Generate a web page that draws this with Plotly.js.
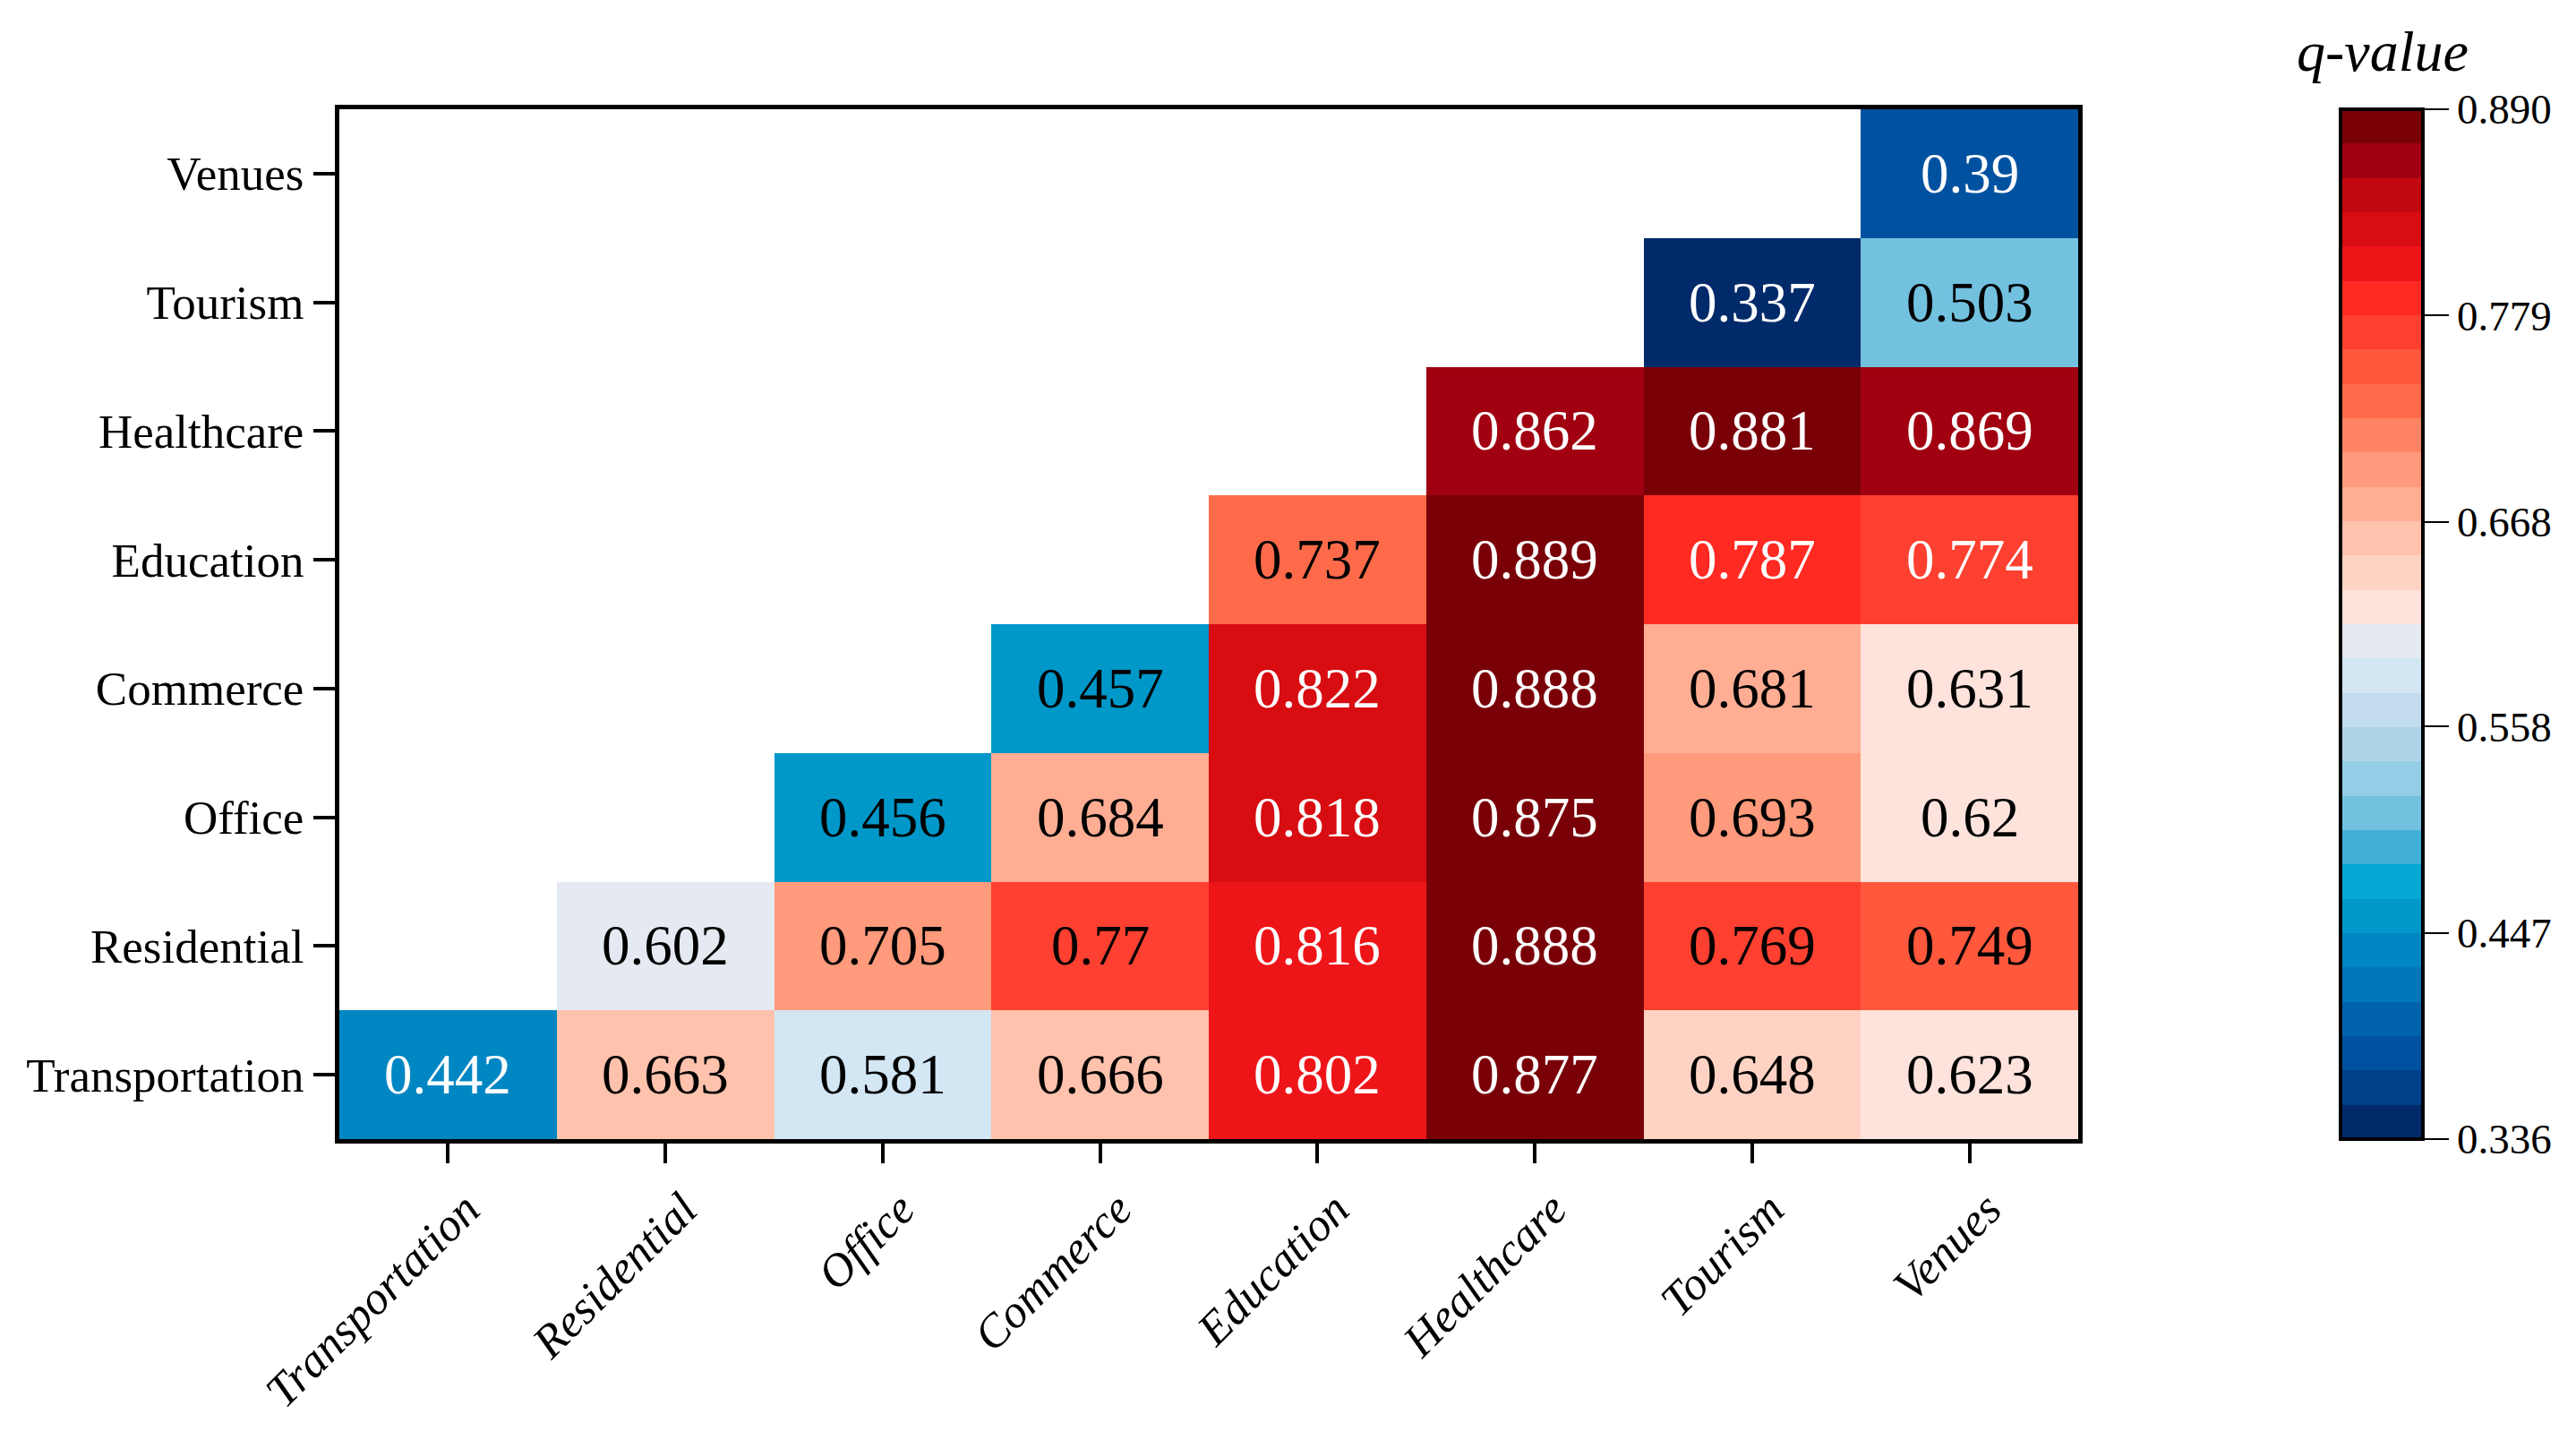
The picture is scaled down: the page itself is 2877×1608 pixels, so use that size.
<!DOCTYPE html>
<html>
<head>
<meta charset="utf-8">
<script src="https://cdn.plot.ly/plotly-3.0.1.min.js"></script>
<style>html,body{margin:0;padding:0;background:#fff;}#chart{width:2877px;height:1608px;}</style>
</head>
<body>
<div id="chart"></div>
<script>
// Categories (x: columns left→right, y: rows bottom→top)
const categories = ["Transportation","Residential","Office","Commerce","Education","Healthcare","Tourism","Venues"];

// q-values per row (row = y category), columns follow categories; null = empty cell
const rowTransportation = [0.442, 0.663, 0.581, 0.666, 0.802, 0.877, 0.648, 0.623];
const rowResidential    = [null, 0.602, 0.705, 0.77, 0.816, 0.888, 0.769, 0.749];
const rowOffice         = [null, null, 0.456, 0.684, 0.818, 0.875, 0.693, 0.62];
const rowCommerce       = [null, null, null, 0.457, 0.822, 0.888, 0.681, 0.631];
const rowEducation      = [null, null, null, null, 0.737, 0.889, 0.787, 0.774];
const rowHealthcare     = [null, null, null, null, null, 0.862, 0.881, 0.869];
const rowTourism        = [null, null, null, null, null, null, 0.337, 0.503];
const rowVenues         = [null, null, null, null, null, null, null, 0.39];

// Colour bar range and tick labels
const zMin = 0.336, zMax = 0.890;
const cbTickVals = [0.336, 0.447, 0.558, 0.668, 0.779, 0.890];
const cbTickText = ["0.336", "0.447", "0.558", "0.668", "0.779", "0.890"];

// Discrete colour steps, low → high
const stepColors = [
  "#002a6a","#003f89","#0052a0","#0062ad","#0076b9","#0086c2","#0097c9","#05a7d3",
  "#42b1d9","#72c1df","#94cde6","#b0d4e7","#c3ddee","#d2e6f4","#e5e9f1","#fde3dc",
  "#ffd3c4","#ffc2ad","#ffae94","#ff9a7c","#ff8464","#ff6b4a","#ff583d","#fd4030",
  "#ff2a22","#ee1519","#d70d12","#c4080f","#a00010","#7a0008"
];

const z = [rowTransportation, rowResidential, rowOffice, rowCommerce, rowEducation, rowHealthcare, rowTourism, rowVenues];

const n = stepColors.length;
const colorscale = [];
stepColors.forEach((c, i) => { colorscale.push([i / n, c]); colorscale.push([(i + 1) / n, c]); });

const serif = "Liberation Serif, Times New Roman, serif";
const mid = (zMin + zMax) / 2;

const annotations = [];
z.forEach((row, ri) => {
  row.forEach((v, ci) => {
    if (v === null) return;
    annotations.push({
      x: categories[ci], y: categories[ri], xref: "x", yref: "y",
      text: String(v), showarrow: false,
      font: {family: serif, size: 63, color: Math.abs(v - mid) > 0.16 ? "#ffffff" : "#000000"}
    });
  });
});
annotations.push({
  xref: "paper", yref: "paper", x: 1.175, y: 1.056, xanchor: "center", yanchor: "middle",
  text: "q-value", showarrow: false,
  font: {family: serif, size: 64, color: "#000", style: "italic"}
});

const trace = {
  type: "heatmap", x: categories, y: categories, z: z,
  zmin: zMin, zmax: zMax, colorscale: colorscale, hoverongaps: false, xgap: 0, ygap: 0,
  colorbar: {
    x: 1.151, xanchor: "left", xref: "paper", y: 0.5, yanchor: "middle", len: 1.0, lenmode: "fraction",
    thickness: 92, thicknessmode: "pixels", xpad: 0, ypad: 0,
    outlinewidth: 4, outlinecolor: "#000",
    tickmode: "array", tickvals: cbTickVals, ticktext: cbTickText,
    ticks: "outside", ticklen: 27, tickwidth: 2, tickcolor: "#000",
    tickfont: {family: serif, size: 47, color: "#000"}
  }
};

const layout = {
  width: 2877, height: 1608,
  margin: {l: 379, r: 556, t: 122, b: 336},
  paper_bgcolor: "#fff", plot_bgcolor: "#fff",
  font: {family: serif, color: "#000"},
  xaxis: {
    type: "category", showline: true, mirror: true, linewidth: 5, linecolor: "#000",
    ticks: "outside", ticklen: 22, tickwidth: 4, tickcolor: "#000", tickangle: -45,
    ticklabelshift: 20,
    tickfont: {family: serif, size: 52, color: "#000", style: "italic"},
    showgrid: false, zeroline: false
  },
  yaxis: {
    type: "category", showline: true, mirror: true, linewidth: 5, linecolor: "#000",
    ticks: "outside", ticklen: 24, tickwidth: 4, tickcolor: "#000",
    tickfont: {family: serif, size: 53, color: "#000"},
    showgrid: false, zeroline: false
  },
  annotations: annotations
};

Plotly.newPlot("chart", [trace], layout, {staticPlot: true, displayModeBar: false});
</script>
</body>
</html>
